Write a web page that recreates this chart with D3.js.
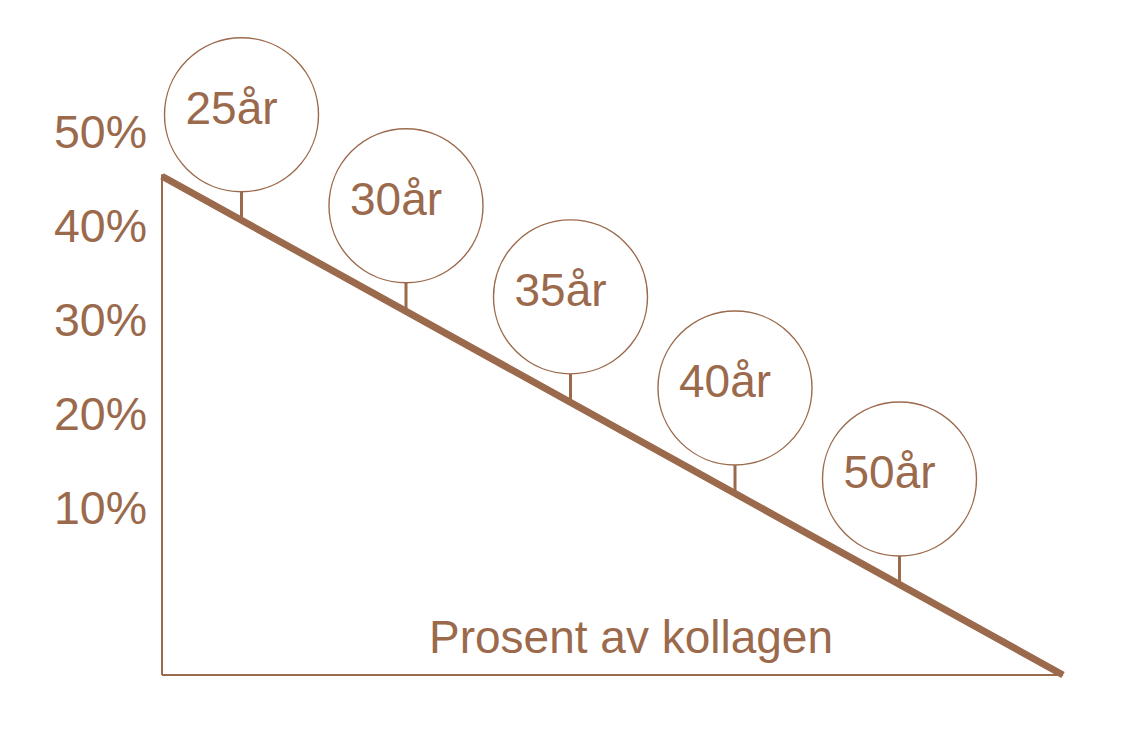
<!DOCTYPE html>
<html>
<head>
<meta charset="utf-8">
<script src="https://cdn.jsdelivr.net/npm/d3@7"></script>
<style>
  body { margin: 0; background: #fff; }
  text { font-family: "Liberation Sans", Arial, sans-serif; fill: #9b6a4c; }
</style>
</head>
<body>
<svg id="chart" width="1124" height="731"></svg>
<script>
const ageLabels = ["25år", "30år", "35år", "40år", "50år"];
const pctTicks = [50, 40, 30, 20, 10];
const linePos = [0, 100];
const linePct = [47, -6];
const axisTitle = "Prosent av kollagen";

const color = "#9b6a4c";
const svg = d3.select("#chart");

// frame of the schematic
const x = d3.scaleLinear().domain([0, 100]).range([162, 1063]);
const y = d3.scaleLinear().domain([-6, 50]).range([675, 148]);
const ageX = d3.scalePoint().domain(ageLabels).range([241.5, 899.5]);
const lineAt = d3.scaleLinear().domain(linePos.map(x)).range(linePct);

const radius = 77;
const stemGap = 105.5;

// y labels
svg
  .selectAll("text.tick")
  .data(pctTicks)
  .join("text")
  .attr("class", "tick")
  .attr("x", 147)
  .attr("y", (d) => y(d))
  .attr("text-anchor", "end")
  .attr("font-size", 46.5)
  .text((d) => d + "%");

// axes
svg
  .append("line")
  .attr("x1", x(0)).attr("x2", x(0))
  .attr("y1", y(linePct[0]) - 2).attr("y2", y(-6))
  .attr("stroke", color).attr("stroke-width", 2);
svg
  .append("line")
  .attr("x1", x(0)).attr("x2", x(100))
  .attr("y1", y(-6)).attr("y2", y(-6))
  .attr("stroke", color).attr("stroke-width", 2);

// axis title
svg
  .append("text")
  .attr("x", 631)
  .attr("y", 653)
  .attr("text-anchor", "middle")
  .attr("font-size", 46)
  .text(axisTitle);

// decline line
const pts = linePos.map((p, i) => [x(p), y(linePct[i])]);
svg
  .append("path")
  .attr("d", d3.line()(pts))
  .attr("fill", "none")
  .attr("stroke", color)
  .attr("stroke-width", 7);

// age bubbles
const bubble = svg
  .selectAll("g.age")
  .data(ageLabels)
  .join("g")
  .attr("class", "age")
  .attr("transform", (d) => {
    const cx = ageX(d);
    const cy = y(lineAt(cx)) - stemGap;
    return "translate(" + cx + "," + cy + ")";
  });

bubble
  .append("line")
  .attr("x1", 0).attr("x2", 0)
  .attr("y1", radius)
  .attr("y2", stemGap - 2)
  .attr("stroke", color)
  .attr("stroke-width", 3);

bubble
  .append("circle")
  .attr("r", radius)
  .attr("fill", "#fff")
  .attr("stroke", color)
  .attr("stroke-width", 1.4);

bubble
  .append("text")
  .attr("x", -56)
  .attr("y", 9)
  .attr("font-size", 46)
  .text((d) => d);
</script>
</body>
</html>
